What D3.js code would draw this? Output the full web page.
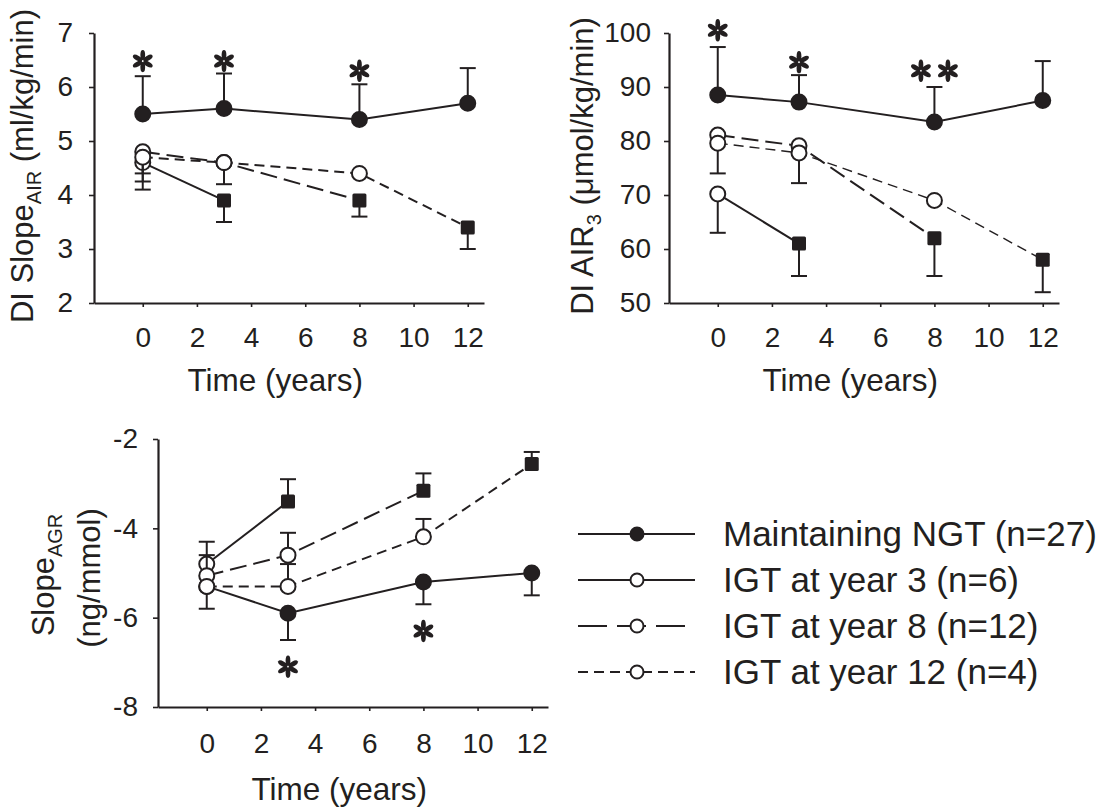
<!DOCTYPE html>
<html>
<head>
<meta charset="utf-8">
<script src="https://cdn.jsdelivr.net/npm/d3@7"></script>
<style>
  body { margin: 0; background: #fff; }
  svg { font-family: "Liberation Sans", Arial, sans-serif; }
</style>
</head>
<body>
<svg id="chart" width="1115" height="808"></svg>
<script>
// ---- data ----
const years = [0, 3, 8, 12];
const xTicks = [0, 2, 4, 6, 8, 10, 12];

// DI Slope AIR (ml/kg/min); "Err" = end of the one-sided error bar
const slopeNGT = [5.5, 5.6, 5.4, 5.7];
const slopeNGTErr = [6.2, 6.25, 6.05, 6.35];
const slopeIGT3 = [4.6, 3.9];
const slopeIGT3Err = [4.1, 3.5];
const slopeIGT8 = [4.8, 4.6, 3.9];
const slopeIGT8Err = [4.4, null, 3.6];
const slopeIGT12 = [4.7, 4.6, 4.4, 3.4];
const slopeIGT12Err = [4.25, 4.2, null, 3.0];
const slopeTicks = [2, 3, 4, 5, 6, 7];
const slopeSig = [{ t: 0, v: 6.48, n: 1 }, { t: 3, v: 6.48, n: 1 }, { t: 8, v: 6.3, n: 1 }];

// DI AIR3 (umol/kg/min)
const airNGT = [88.5, 87.2, 83.5, 87.5];
const airNGTErr = [97.4, 92.2, 90, 94.8];
const airIGT3 = [70.2, 61];
const airIGT3Err = [63, 55];
const airIGT8 = [81.1, 79.1, 62];
const airIGT8Err = [74, 72.2, 55];
const airIGT12 = [79.6, 77.8, 69, 58];
const airIGT12Err = [null, null, null, 52];
const airTicks = [50, 60, 70, 80, 90, 100];
const airSig = [{ t: 0, v: 100.5, n: 1 }, { t: 3, v: 94.6, n: 1 }, { t: 8, v: 93, n: 2 }];

// Slope AGR (ng/mmol)
const agrNGT = [-5.3, -5.9, -5.2, -5.0];
const agrNGTErr = [-5.8, -6.5, -5.7, -5.5];
const agrIGT3 = [-4.8, -3.4];
const agrIGT3Err = [-4.3, -2.9];
const agrIGT8 = [-5.06, -4.6, -3.16];
const agrIGT8Err = [-4.6, -4.1, -2.77];
const agrIGT12 = [-5.3, -5.3, -4.19, -2.56];
const agrIGT12Err = [null, -4.8, -3.79, -2.29];
const agrTicks = [-8, -6, -4, -2];
const agrSig = [{ t: 3, v: -7.1, n: 1 }, { t: 8, v: -6.3, n: 1 }];

const legendLabels = ["Maintaining NGT (n=27)", "IGT at year 3 (n=6)", "IGT at year 8 (n=12)", "IGT at year 12 (n=4)"];

// ---- drawing ----
const ink = "#231f20";
const svg = d3.select("#chart");

const styles = [
  { dash: null, legDash: null, fill: ink, lastSquare: false },
  { dash: null, legDash: null, fill: "#fff", lastSquare: true },
  { dash: "17,7", legDash: "29,10", fill: "#fff", lastSquare: true },
  { dash: "10,6", legDash: "10,6", fill: "#fff", lastSquare: true }
];

function asterisk(g, cx, cy) {
  const a = g.append("g").attr("transform", `translate(${cx},${cy})`);
  d3.range(6).forEach(i => {
    a.append("ellipse")
      .attr("cx", 0).attr("cy", -6)
      .attr("rx", 2.4).attr("ry", 5.2)
      .attr("transform", `rotate(${i * 60})`)
      .attr("fill", ink);
  });
}

function drawPanel(p) {
  const g = svg.append("g");
  const x = d3.scaleLinear().domain([-1.8, 12.6]).range([p.left, p.right]);
  const y = d3.scaleLinear().domain(p.yDomain).range([p.bottom, p.top]);

  const xa = g.append("g")
    .attr("transform", `translate(0,${p.bottom})`)
    .call(d3.axisBottom(x).tickValues(xTicks).tickFormat(d => String(d))
      .tickSize(4).tickSizeOuter(0).tickPadding(p.xPad));
  const ya = g.append("g")
    .attr("transform", `translate(${p.left},0)`)
    .call(d3.axisLeft(y).tickValues(p.yTicks).tickFormat(d => String(d))
      .tickSize(5).tickSizeOuter(0).tickPadding(p.yPad));
  [xa, ya].forEach(a => {
    a.attr("font-family", null).attr("font-size", null);
    a.select(".domain").attr("stroke", ink).attr("stroke-width", 2.2);
    a.selectAll(".tick line").attr("stroke", ink).attr("stroke-width", 1.6);
    a.selectAll(".tick text").attr("fill", ink).style("font-size", "28px");
  });

  // x title
  g.append("text")
    .attr("x", x(6) - 30).attr("y", p.bottom + p.titleDy)
    .attr("text-anchor", "middle").attr("fill", ink)
    .style("font-size", "31.5px")
    .text("Time (years)");

  // series: lines, error bars, markers
  p.series.forEach((s, k) => {
    const st = styles[k];
    const pts = s.values.map((v, i) => ({ t: years[i], v: v, e: s.err[i] }));
    g.append("path")
      .datum(pts)
      .attr("d", d3.line().x(d => x(d.t)).y(d => y(d.v)))
      .attr("fill", "none").attr("stroke", ink)
      .attr("stroke-width", (s.thin ? 1.4 : 2))
      .attr("stroke-dasharray", st.dash);

    pts.forEach(d => {
      const cx = x(d.t), cy = y(d.v);
      if (d.e != null) {
        const ey = y(d.e);
        g.append("line").attr("x1", cx).attr("x2", cx).attr("y1", cy).attr("y2", ey)
          .attr("stroke", ink).attr("stroke-width", 2);
        g.append("line").attr("x1", cx - 8).attr("x2", cx + 8).attr("y1", ey).attr("y2", ey)
          .attr("stroke", ink).attr("stroke-width", 2);
      }
    });
    pts.forEach((d, i) => {
      const cx = x(d.t), cy = y(d.v);
      if (st.lastSquare && i === pts.length - 1) {
        g.append("rect").attr("x", cx - 7).attr("y", cy - 7).attr("width", 14).attr("height", 14)
          .attr("rx", 1.5).attr("fill", ink);
      } else {
        g.append("circle").attr("cx", cx).attr("cy", cy).attr("r", 7.5)
          .attr("fill", st.fill).attr("stroke", ink).attr("stroke-width", 2);
      }
    });
  });

  p.sig.forEach(s => {
    for (let j = 0; j < s.n; j++) {
      asterisk(g, x(s.t) + (j - (s.n - 1) / 2) * 27, y(s.v));
    }
  });

  // y title
  p.yTitle(g);
}

drawPanel({
  left: 94, right: 484, top: 33, bottom: 303,
  yDomain: [2, 7], yTicks: slopeTicks, xPad: 20, yPad: 16, titleDy: 88,
  series: [
    { values: slopeNGT, err: slopeNGTErr },
    { values: slopeIGT3, err: slopeIGT3Err },
    { values: slopeIGT8, err: slopeIGT8Err },
    { values: slopeIGT12, err: slopeIGT12Err }
  ],
  sig: slopeSig,
  yTitle: g => {
    const t = g.append("text")
      .attr("transform", "translate(33,166) rotate(-90)")
      .attr("text-anchor", "middle").attr("fill", ink)
      .style("font-size", "31px");
    t.append("tspan").text("DI Slope");
    t.append("tspan").attr("dy", 8).style("font-size", "20px").text("AIR");
    t.append("tspan").attr("dy", -8).text(" (ml/kg/min)");
  }
});

drawPanel({
  left: 669, right: 1059, top: 33, bottom: 303,
  yDomain: [50, 100], yTicks: airTicks, xPad: 20, yPad: 13, titleDy: 88,
  series: [
    { values: airNGT, err: airNGTErr },
    { values: airIGT3, err: airIGT3Err },
    { values: airIGT8, err: airIGT8Err },
    { values: airIGT12, err: airIGT12Err, thin: true }
  ],
  sig: airSig,
  yTitle: g => {
    const t = g.append("text")
      .attr("transform", "translate(593,166) rotate(-90)")
      .attr("text-anchor", "middle").attr("fill", ink)
      .style("font-size", "31px");
    t.append("tspan").text("DI AIR");
    t.append("tspan").attr("dy", 8).style("font-size", "20px").text("3");
    t.append("tspan").attr("dy", -8).text(" (\u03bcmol/kg/min)");
  }
});

drawPanel({
  left: 158, right: 548, top: 439, bottom: 707,
  yDomain: [-8, -2], yTicks: agrTicks, xPad: 22, yPad: 15, titleDy: 93,
  series: [
    { values: agrNGT, err: agrNGTErr },
    { values: agrIGT3, err: agrIGT3Err },
    { values: agrIGT8, err: agrIGT8Err },
    { values: agrIGT12, err: agrIGT12Err }
  ],
  sig: agrSig,
  yTitle: g => {
    const t = g.append("text")
      .attr("transform", "translate(54,575) rotate(-90)")
      .attr("text-anchor", "middle").attr("fill", ink)
      .style("font-size", "31px");
    t.append("tspan").text("Slope");
    t.append("tspan").attr("dy", 8).style("font-size", "20px").text("AGR");
    g.append("text")
      .attr("transform", "translate(100,578) rotate(-90)")
      .attr("text-anchor", "middle").attr("fill", ink)
      .style("font-size", "31px")
      .text("(ng/mmol)");
  }
});

// ---- legend ----
const leg = svg.append("g");
legendLabels.forEach((lab, k) => {
  const st = styles[k];
  const ly = 534 + k * 46;
  leg.append("line").attr("x1", 578).attr("x2", 695).attr("y1", ly).attr("y2", ly)
    .attr("stroke", ink).attr("stroke-width", 2).attr("stroke-dasharray", st.legDash);
  leg.append("circle").attr("cx", 637).attr("cy", ly).attr("r", 6.5)
    .attr("fill", st.fill).attr("stroke", ink).attr("stroke-width", 2);
  leg.append("text").attr("x", 723).attr("y", ly + 12).attr("fill", ink)
    .style("font-size", "35px").text(lab);
});
</script>
</body>
</html>
